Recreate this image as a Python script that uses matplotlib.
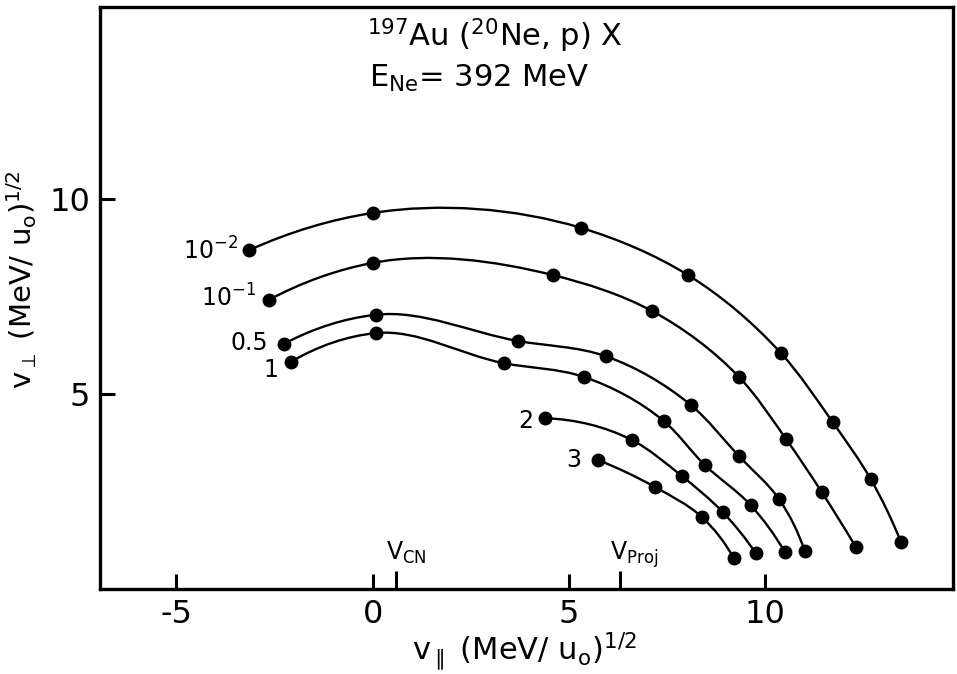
import numpy as np
import matplotlib
matplotlib.use('Agg')
import matplotlib.pyplot as plt
from matplotlib.path import Path
from matplotlib.patches import PathPatch
from matplotlib import font_manager

# narrow sans looks closer to the lettering of the original, if it is there
names = {f.name for f in font_manager.fontManager.ttflist}
base = 'Liberation Sans Narrow' if 'Liberation Sans Narrow' in names else 'DejaVu Sans'
plt.rcParams['font.family'] = [base, 'DejaVu Sans']
plt.rcParams['mathtext.fontset'] = 'custom'
plt.rcParams['mathtext.rm'] = base
plt.rcParams['mathtext.it'] = base
plt.rcParams['mathtext.bf'] = base
plt.rcParams['axes.unicode_minus'] = False

# --- data: v_par, v_perp in (MeV/u0)^1/2 --- #
curve_labels = ['10$^{-2}$', '10$^{-1}$', '0.5', '1', '2', '3']

v_par_1e2 = [-3.14, 0.0, 5.31, 8.04, 10.41, 11.73, 12.70, 13.47]
v_perp_1e2 = [8.69, 9.64, 9.26, 8.05, 6.05, 4.28, 2.82, 1.21]
v_par_1e1 = [-2.65, 0.0, 4.59, 7.12, 9.34, 10.54, 11.45, 12.32]
v_perp_1e1 = [7.41, 8.36, 8.05, 7.13, 5.44, 3.85, 2.49, 1.08]
v_par_05 = [-2.27, 0.08, 3.70, 5.94, 8.11, 9.34, 10.36, 11.02]
v_perp_05 = [6.28, 7.03, 6.36, 5.97, 4.72, 3.41, 2.31, 0.97]
v_par_1 = [-2.09, 0.08, 3.34, 5.38, 7.42, 8.47, 9.64, 10.51]
v_perp_1 = [5.82, 6.56, 5.79, 5.44, 4.31, 3.18, 2.15, 0.95]
v_par_2 = [4.39, 6.61, 7.88, 8.93, 9.77]
v_perp_2 = [4.38, 3.82, 2.90, 1.97, 0.92]
v_par_3 = [5.74, 7.19, 8.39, 9.21]
v_perp_3 = [3.31, 2.62, 1.85, 0.79]

v_cn = 0.61
v_proj = 6.3

curves = [(v_par_1e2, v_perp_1e2), (v_par_1e1, v_perp_1e1), (v_par_05, v_perp_05),
          (v_par_1, v_perp_1), (v_par_2, v_perp_2), (v_par_3, v_perp_3)]

# label offsets from first point (points)
label_offsets = [(-8, -7), (-9, -5), (-11, -4), (-9, -11), (-8, -7), (-12, -5)]


def smooth_path(x, y):
    # hand-drawn looking curve: cubic hermite (chord length) as bezier segments
    p = np.column_stack([x, y]).astype(float)
    d = np.hypot(*np.diff(p, axis=0).T)
    n = len(p)
    m = np.zeros_like(p)
    for i in range(1, n - 1):
        m[i] = ((p[i] - p[i-1]) * d[i] / d[i-1] + (p[i+1] - p[i]) * d[i-1] / d[i]) / (d[i-1] + d[i])
    m[0] = 2 * (p[1] - p[0]) / d[0] - m[1]
    m[-1] = 2 * (p[-1] - p[-2]) / d[-1] - m[-2]
    verts = [p[0]]
    codes = [Path.MOVETO]
    for i in range(n - 1):
        verts += [p[i] + m[i] * d[i] / 3, p[i+1] - m[i+1] * d[i] / 3, p[i+1]]
        codes += [Path.CURVE4] * 3
    return Path(verts, codes)


fig = plt.figure(figsize=(9.57, 6.74), dpi=100)
ax = fig.add_axes([0.1045, 0.1261, 0.8913, 0.8635])

for (xs, ys), lab, off in zip(curves, curve_labels, label_offsets):
    ax.add_patch(PathPatch(smooth_path(xs, ys), facecolor='none', edgecolor='black', lw=1.7, zorder=2))
    ax.plot(xs, ys, 'o', color='black', ms=9, zorder=3)
    ax.annotate(lab, (xs[0], ys[0]), xytext=off, textcoords='offset points',
                ha='right', va='baseline', fontsize=17)

ax.set_xlim(-6.95, 14.8)
ax.set_ylim(0, 14.92)
ax.set_xticks([-5, 0, 5, 10], labels=['-5', '0', '5', '10'])
ax.set_xticks([v_cn, v_proj], minor=True)
ax.set_yticks([5, 10], labels=['5', '10'])
ax.tick_params(which='major', direction='in', length=11, width=2.2, labelsize=23, pad=7)
ax.tick_params(axis='x', which='major', pad=7)
ax.tick_params(which='minor', direction='in', length=13, width=2.2)
for s in ax.spines.values():
    s.set_linewidth(2.4)

ax.text(0.33, 0.74, r'V$_{\rm CN}$', fontsize=17, va='baseline')
ax.text(6.05, 0.74, r'V$_{\rm Proj}$', fontsize=17, va='baseline')

ax.text(-0.13, 13.92, r'$^{197}$Au ($^{20}$Ne, p) X', fontsize=22, va='baseline')
ax.text(-0.08, 12.87, r'E$_{\rm Ne}$= 392 MeV', fontsize=22, va='baseline')

ax.set_xlabel(r'v$_{\parallel}$ (MeV/ u$_{\rm o}$)$^{1/2}$', fontsize=22)
ax.xaxis.set_label_coords(0.498, -0.072)
ax.set_ylabel(r'v$_{\perp}$ (MeV/ u$_{\rm o}$)$^{1/2}$', fontsize=21)
ax.yaxis.set_label_coords(-0.071, 0.531)

fig.savefig('out.png', dpi=100)
